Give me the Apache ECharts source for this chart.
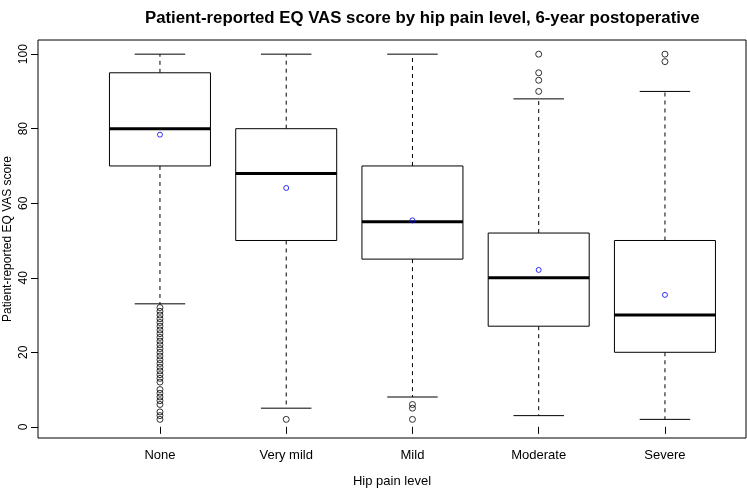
<!DOCTYPE html>
<html>
<head>
<meta charset="utf-8">
<script src="https://cdn.jsdelivr.net/npm/echarts@6/dist/echarts.min.js"></script>
<style>
  html, body { margin: 0; padding: 0; background: #fff; }
  #chart { width: 747px; height: 495px; }
</style>
</head>
<body>
<div id="chart"></div>
<script>
const categories = ['None', 'Very mild', 'Mild', 'Moderate', 'Severe']
const whiskerLow = [33, 5, 8, 3, 2]
const q1 = [70, 50, 45, 27, 20]
const medians = [80, 68, 55, 40, 30]
const q3 = [95, 80, 70, 52, 50]
const whiskerHigh = [100, 100, 100, 88, 90]
const means = [78.4, 64.1, 55.4, 42.1, 35.4]
const outliers = [
  [32, 31, 30, 29, 28, 27, 26, 25, 24, 23, 22, 21, 20, 19, 18, 17, 16, 15, 14, 13, 12, 10, 9, 8, 7, 6, 4, 3, 2],
  [2],
  [6, 5, 2],
  [90, 93, 95, 100],
  [98, 100],
]
const yTicks = [0, 20, 40, 60, 80, 100]

const chart = echarts.init(document.getElementById('chart'))

const boxData = categories.map((c, i) => [i + 1, whiskerLow[i], q1[i], medians[i], q3[i], whiskerHigh[i]])
const outlierData = []
outliers.forEach((arr, i) => arr.forEach((v) => outlierData.push([i + 1, v])))
const meanData = means.map((m, i) => [i + 1, m])

// R-style box: dashed whiskers, short caps, thick median
function renderBox(params, api) {
  const x = api.value(0)
  const pLow = api.coord([x, api.value(1)])
  const pQ1 = api.coord([x, api.value(2)])
  const pMed = api.coord([x, api.value(3)])
  const pQ3 = api.coord([x, api.value(4)])
  const pHigh = api.coord([x, api.value(5)])
  const bl = api.coord([x - 0.4, 0])[0]
  const br = api.coord([x + 0.4, 0])[0]
  const cl = api.coord([x - 0.2, 0])[0]
  const cr = api.coord([x + 0.2, 0])[0]
  const cx = pMed[0]
  const thin = { stroke: '#000', lineWidth: 1 }
  const dash = { stroke: '#000', lineWidth: 1, lineDash: [4, 4] }
  return {
    type: 'group',
    children: [
      { type: 'line', shape: { x1: cx, y1: pQ3[1], x2: cx, y2: pHigh[1] }, style: dash },
      { type: 'line', shape: { x1: cx, y1: pQ1[1], x2: cx, y2: pLow[1] }, style: dash },
      { type: 'line', shape: { x1: cl, y1: pHigh[1], x2: cr, y2: pHigh[1] }, style: thin },
      { type: 'line', shape: { x1: cl, y1: pLow[1], x2: cr, y2: pLow[1] }, style: thin },
      { type: 'rect', shape: { x: bl, y: pQ3[1], width: br - bl, height: pQ1[1] - pQ3[1] }, style: { fill: '#fff', stroke: '#000', lineWidth: 1 } },
      { type: 'line', shape: { x1: bl, y1: pMed[1], x2: br, y2: pMed[1] }, style: { stroke: '#000', lineWidth: 3 } },
    ],
  }
}

chart.setOption({
  animation: false,
  title: {
    text: 'Patient-reported EQ VAS score by hip pain level, 6-year postoperative',
    left: 140,
    top: 5,
    textStyle: { fontFamily: 'Liberation Sans', fontSize: 16.8, fontWeight: 'bold', color: '#000' },
  },
  grid: {
    left: 38, right: 1, top: 40, bottom: 57,
    outerBoundsMode: 'none',
    show: true, borderColor: '#000', borderWidth: 1, backgroundColor: 'transparent',
  },
  xAxis: {
    type: 'value',
    min: 0.034,
    max: 5.642,
    name: 'Hip pain level',
    nameLocation: 'middle',
    nameGap: 37,
    nameTextStyle: { fontFamily: 'Liberation Sans', fontSize: 13, color: '#000' },
    axisLine: { show: false },
    splitLine: { show: false },
    axisTick: { show: true, inside: false, length: 7, customValues: [1, 2, 3, 4, 5], lineStyle: { color: '#000' } },
    axisLabel: {
      customValues: [1, 2, 3, 4, 5],
      margin: 11,
      fontFamily: 'Liberation Sans',
      fontSize: 13,
      color: '#000',
      formatter: (v) => categories[Math.round(v) - 1],
    },
  },
  yAxis: {
    type: 'value',
    min: -3,
    max: 103.8,
    name: 'Patient-reported EQ VAS score',
    nameLocation: 'middle',
    nameRotate: 90,
    nameGap: 24,
    nameMoveOverlap: false,
    nameTextStyle: { fontFamily: 'Liberation Sans', fontSize: 12, color: '#000' },
    axisLine: { show: false },
    splitLine: { show: false },
    axisTick: { show: true, inside: false, length: 7, customValues: yTicks, lineStyle: { color: '#000' } },
    axisLabel: {
      customValues: yTicks,
      rotate: 90,
      margin: 8,
      fontFamily: 'Liberation Sans',
      fontSize: 12,
      color: '#000',
    },
  },
  series: [
    {
      type: 'custom',
      renderItem: renderBox,
      data: boxData,
      encode: { x: 0, y: [1, 2, 3, 4, 5] },
      z: 2,
    },
    {
      type: 'scatter',
      data: outlierData,
      symbol: 'circle',
      symbolSize: 6,
      itemStyle: { color: 'rgba(0,0,0,0)', borderColor: '#000', borderWidth: 1 },
      z: 3,
    },
    {
      type: 'scatter',
      data: meanData,
      symbol: 'circle',
      symbolSize: 5,
      itemStyle: { color: 'rgba(0,0,0,0)', borderColor: '#0000ff', borderWidth: 1 },
      z: 4,
    },
  ],
})
</script>
</body>
</html>
